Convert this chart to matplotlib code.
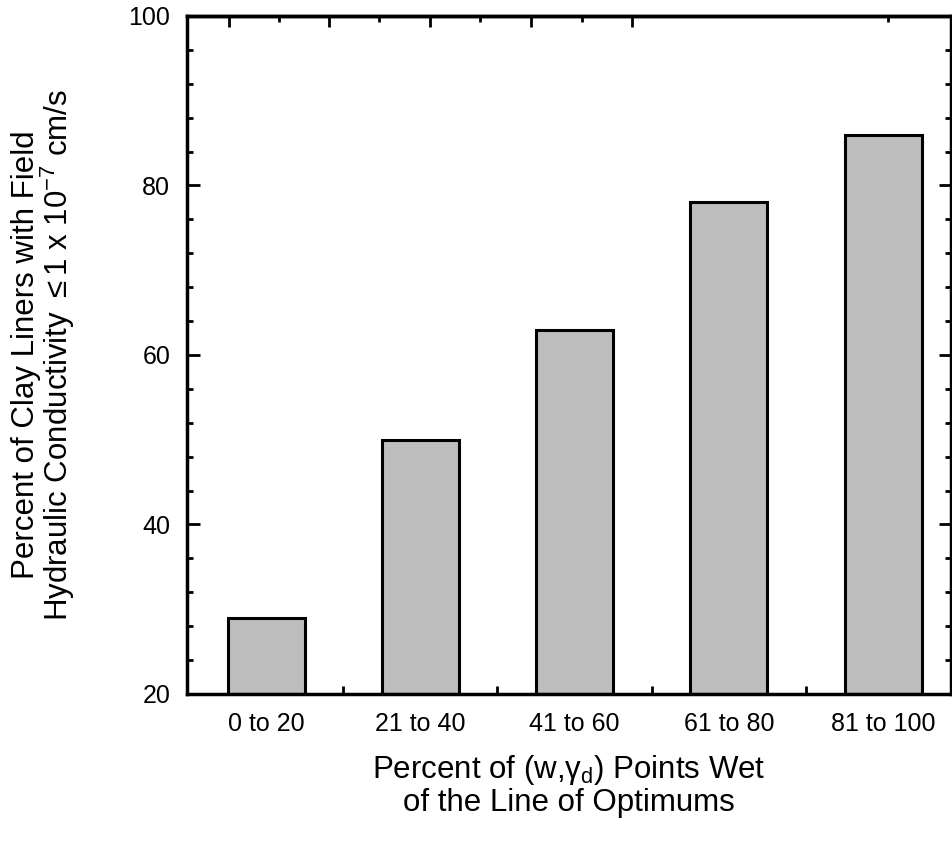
import matplotlib
matplotlib.use('Agg')
import matplotlib.pyplot as plt
import numpy as np
from matplotlib.ticker import MultipleLocator

plt.rcParams['font.family'] = ['Liberation Sans', 'DejaVu Sans']
plt.rcParams['mathtext.fontset'] = 'custom'
plt.rcParams['mathtext.rm'] = 'Liberation Sans'
plt.rcParams['mathtext.it'] = 'Liberation Sans'
plt.rcParams['mathtext.bf'] = 'Liberation Sans:bold'

# data
categories = ['0 to 20', '21 to 40', '41 to 60', '61 to 80', '81 to 100']
percent_ok = [29, 50, 63, 78, 86]

fig = plt.figure(figsize=(9.52, 8.42), dpi=100)
ax = fig.add_axes([0.1964, 0.1758, 0.8025, 0.8052])

x = np.arange(len(categories))
ax.bar(x, np.array(percent_ok) - 20, bottom=20, width=0.5,
       color='#bdbdbd', edgecolor='black', linewidth=2.2)

ax.set_xlim(-0.513, 4.44)
ax.set_ylim(20, 100)

ax.set_xticks(x)
ax.set_xticklabels(categories, fontsize=18)
ax.set_xticks(x[:-1] + 0.5, minor=True)
ax.tick_params(axis='x', which='major', length=0, pad=13)
ax.tick_params(axis='x', which='minor', direction='in', length=6, width=2,
               bottom=True)

ax.yaxis.set_major_locator(MultipleLocator(20))
ax.yaxis.set_minor_locator(MultipleLocator(4))
ax.tick_params(axis='y', which='major', direction='in', length=9, width=2,
               labelsize=18, right=True, pad=12)
ax.tick_params(axis='y', which='minor', direction='in', length=4, width=2,
               right=True)

# scanned top axis carries its own small ticks
top = ax.secondary_xaxis('top')
top.set_xticks([-0.24, 0.41, 1.06, 1.72, 2.37])
top.set_xticks([0.085, 0.735, 1.385, 2.05, 4.03], minor=True)
top.tick_params(which='major', direction='in', length=8, width=2, labeltop=False)
top.tick_params(which='minor', direction='in', length=4, width=2)
top.spines['top'].set_linewidth(2.5)

for s in ax.spines.values():
    s.set_linewidth(2.5)

ax.set_ylabel('Percent of Clay Liners with Field\n'
              r'Hydraulic Conductivity $\leq$1 x 10$^{-7}$ cm/s',
              fontsize=22.5, labelpad=37, linespacing=0.92)
ax.set_xlabel('Percent of (w,$\\gamma_{\\rm d}$) Points Wet\nof the Line of Optimums',
              fontsize=22.5, labelpad=12, linespacing=1.05)

fig.savefig('out.png', dpi=100)
